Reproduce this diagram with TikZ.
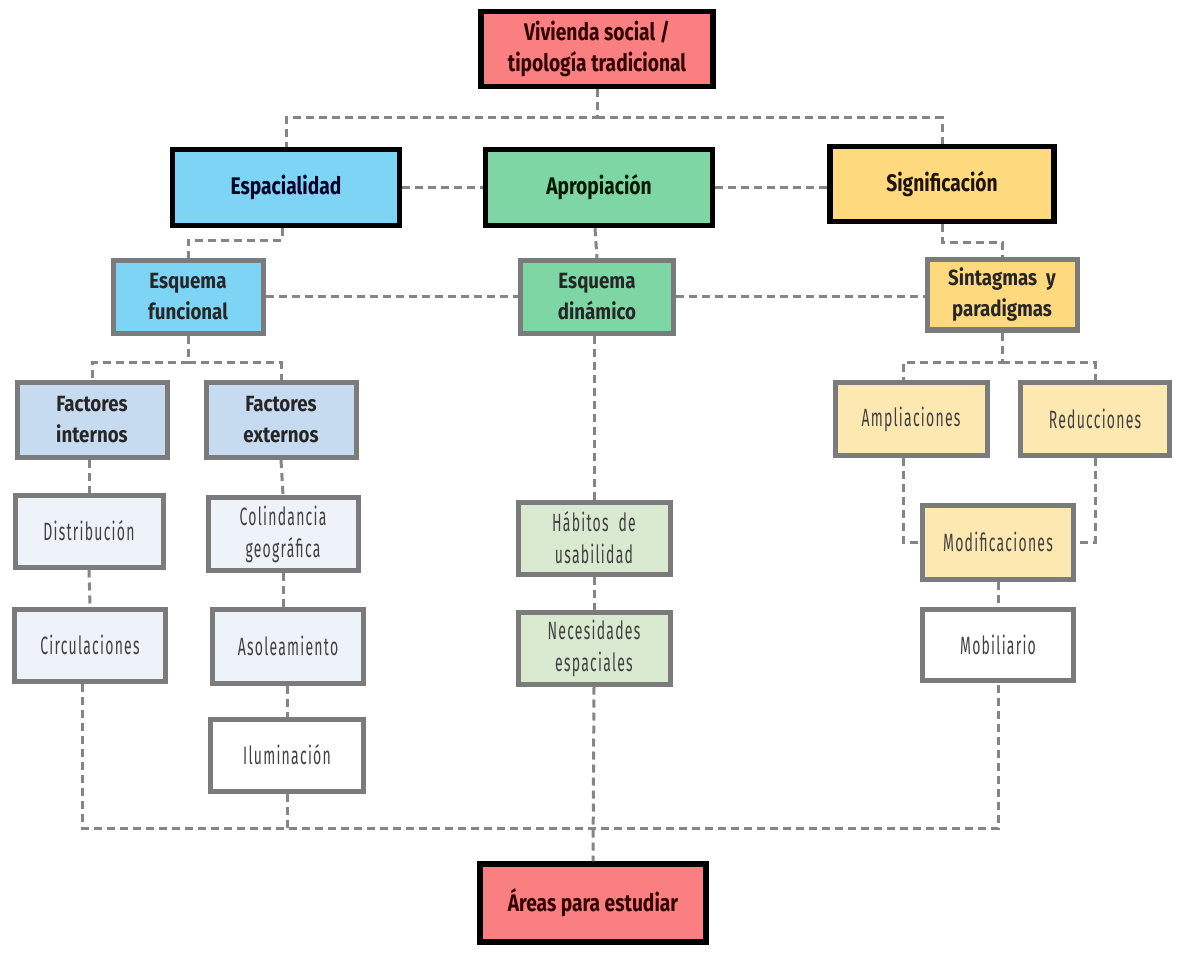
\documentclass[tikz,border=0pt]{standalone}
\usepackage{fontspec}
\setmainfont{Fira Sans}
\newfontfamily\topf{Fira Sans}[FakeStretch=0.8]
\newfontfamily\subf{Fira Sans}[FakeStretch=0.85]
\newfontfamily\thinf{Fira Sans}[FakeStretch=0.56,LetterSpace=5]
\definecolor{cred}{HTML}{FA7F80}
\definecolor{cblue}{HTML}{7DD4F5}
\definecolor{cgreen}{HTML}{7ED6A5}
\definecolor{cyel}{HTML}{FFD97D}
\definecolor{csteel}{HTML}{C7DBF0}
\definecolor{cpale}{HTML}{EEF3FA}
\definecolor{cpgreen}{HTML}{D9EAD0}
\definecolor{cpyel}{HTML}{FDE8B2}
\definecolor{cgray}{HTML}{7B7B7B}
\definecolor{cdash}{HTML}{858585}
\tikzset{
  main/.style={draw=black, line width=5.5pt, align=center, inner sep=2pt,
    font=\topf\fontsize{24}{31}\selectfont\bfseries},
  sub/.style={draw=cgray, line width=5pt, align=center, inner sep=2pt,
    font=\subf\fontsize{22}{31}\selectfont\bfseries, text=black!85},
  leaf/.style={draw=cgray, line width=5pt, align=center, inner sep=2pt,
    font=\thinf\fontsize{25}{32}\selectfont, text=black!75},
  conn/.style={draw=cdash, line width=3pt, dash pattern=on 8pt off 5pt}
}
\begin{document}
\begin{tikzpicture}[x=1pt,y=-1pt]
\useasboundingbox[fill=white] (0,0) rectangle (1177,957);
% level 0
\node[main, fill=cred, text=black!80!red, minimum width=232pt, minimum height=75pt] (viv) at (597,49) {Vivienda social /\\tipología tradicional};
% level 1
\node[main, fill=cblue, text=black!85!blue, minimum width=227pt, minimum height=76pt] (esp) at (286,187.5) {Espacialidad};
\node[main, fill=cgreen, text=black!90!green, minimum width=227pt, minimum height=76pt] (apr) at (599,187.5) {Apropiación};
\node[main, fill=cyel, text=black!85!brown, minimum width=224pt, minimum height=75pt] (sig) at (942,184) {Significación};
% level 2
\node[sub, fill=cblue, minimum width=150pt, minimum height=72pt] (ef) at (188,297) {Esquema\\funcional};
\node[sub, fill=cgreen, minimum width=153pt, minimum height=72pt] (ed) at (597,297) {Esquema\\dinámico};
\node[sub, fill=cyel, minimum width=150pt, minimum height=70pt] (sin) at (1002,295) {Sintagmas~~y\\paradigmas};
% level 3
\node[sub, fill=csteel, minimum width=150pt, minimum height=75pt] (fi) at (92,420) {Factores\\internos};
\node[sub, fill=csteel, minimum width=150pt, minimum height=75pt] (fe) at (281,420) {Factores\\externos};
\node[leaf, fill=cpyel, minimum width=152pt, minimum height=73pt] (amp) at (911,419) {Ampliaciones};
\node[leaf, fill=cpyel, minimum width=149pt, minimum height=73pt] (red) at (1095,419) {Reducciones};
% level 4
\node[leaf, fill=cpale, minimum width=148pt, minimum height=72pt] (dis) at (89,531) {Distribución};
\node[leaf, fill=cpale, minimum width=150pt, minimum height=73pt] (col) at (283,534) {Colindancia\\geográfica};
\node[leaf, fill=cpgreen, minimum width=152pt, minimum height=72pt] (hab) at (594,538) {Hábitos~~de\\usabilidad};
\node[leaf, fill=cpyel, minimum width=151pt, minimum height=74pt] (mod) at (998,542) {Modificaciones};
% level 5
\node[leaf, fill=cpale, minimum width=151pt, minimum height=72pt] (cir) at (90,645) {Circulaciones};
\node[leaf, fill=cpale, minimum width=151pt, minimum height=74pt] (aso) at (288,646) {Asoleamiento};
\node[leaf, fill=cpgreen, minimum width=152pt, minimum height=72pt] (nec) at (594,648) {Necesidades\\espaciales};
\node[leaf, fill=white, minimum width=151pt, minimum height=71pt] (mob) at (998,645) {Mobiliario};
\node[leaf, fill=white, minimum width=153pt, minimum height=72pt] (ilu) at (287,755) {Iluminación};
% bottom
\node[main, fill=cred, text=black!80!red, minimum width=226pt, minimum height=78pt] (are) at (593,903) {Áreas para estudiar};
% connectors
\coordinate (topbar) at (597,118);
\coordinate (botbar) at (593,828);
\draw[conn] (viv.south) -- (topbar) -| (esp.north);
\draw[conn] (topbar) -| (sig.north);
\draw[conn] (esp.east) -- (apr.west);
\draw[conn] (apr.east) -- (apr.east -| sig.west);
\draw[conn] ([xshift=-4pt]esp.south) -- ++(0,12) -| (ef.north);
\draw[conn] ([xshift=-4pt]apr.south) -- (ed.north);
\draw[conn] (sig.south) -- ++(0,18) -| (sin.north);
\draw[conn] (ef.east) -- (ed.west);
\draw[conn] (ed.east) -- (ed.east -| sin.west);
\draw[conn] (ef.south) -- ++(0,27) -| (fi.north);
\draw[conn] (ef.south) ++(0,27) -| (fe.north);
\draw[conn] (sin.south) -- ++(0,30) -| ([xshift=-8pt]amp.north);
\draw[conn] (sin.south) ++(0,30) -| (red.north);
\draw[conn] ([xshift=-3pt]fi.south) -- (dis.north);
\draw[conn] (fe.south) -- (col.north);
\draw[conn] (col.south) -- (col.south |- aso.north);
\draw[conn] (aso.south -| ilu.north) -- (ilu.north);
\draw[conn] (dis.south) -- (cir.north);
\draw[conn] (ed.south -| hab.north) -- (hab.north);
\draw[conn] (hab.south) -- (nec.north);
\draw[conn] ([xshift=-8pt]amp.south) |- (mod.west);
\draw[conn] (red.south) |- (mod.east);
\draw[conn] (mod.south) -- (mob.north);
\draw[conn] ([xshift=-8pt]cir.south) |- (botbar) -| (mob.south);
\draw[conn] (ilu.south) -- (ilu.south |- botbar);
\draw[conn] (nec.south) -- (are.north);
\end{tikzpicture}
\end{document}
